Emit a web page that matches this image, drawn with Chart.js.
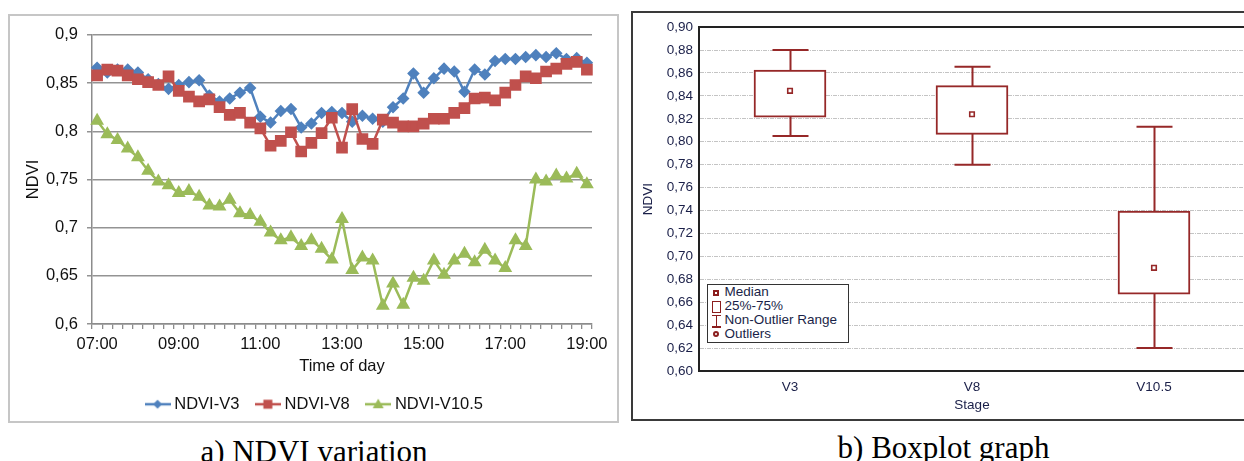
<!DOCTYPE html>
<html>
<head>
<meta charset="utf-8">
<script src="https://cdn.jsdelivr.net/npm/chart.js@4.4.1/dist/chart.umd.min.js"></script>
<style>
  html, body { margin: 0; padding: 0; background: #fff; width: 1244px; height: 461px; overflow: hidden; }
  body { position: relative; font-family: "Liberation Sans", Arial, sans-serif; }
  #leftBox { position: absolute; left: 8px; top: 14px; width: 611px; height: 409px; border: 2px solid #c6c6c6; box-sizing: border-box; }
  #rightBox { position: absolute; left: 631px; top: 11px; width: 700px; height: 410px; border: 2px solid #3a3a3a; border-right: none; box-sizing: border-box; }
  canvas { display: block; }
  .caption { position: absolute; font-family: "Liberation Serif", "Times New Roman", serif; font-size: 31px; line-height: 31px; color: #000; text-align: center; white-space: nowrap; }
  #boxLegend { position: absolute; left: 707px; top: 284px; width: 142px; height: 59px; border: 1.5px solid #333; box-sizing: border-box; background: #fff;
               font-size: 13.5px; line-height: 14px; color: #1a1f48; padding-left: 16.5px; }
  #boxLegend .ico { position: absolute; box-sizing: border-box; }
</style>
</head>
<body>
<div id="leftBox"><canvas id="ndviLine" width="607" height="405"></canvas></div>
<div id="rightBox"><canvas id="ndviBox" width="620" height="406"></canvas></div>

<div id="boxLegend">
  <div>Median</div>
  <div>25%-75%</div>
  <div>Non-Outlier Range</div>
  <div>Outliers</div>
  <span class="ico" style="left:5px;top:4.5px;width:6px;height:6px;border:2px solid #8b1e1e;background:#fff;"></span>
  <span class="ico" style="left:3.5px;top:16px;width:9px;height:12px;border:1.5px solid #8b1e1e;"></span>
  <span class="ico" style="left:7.5px;top:30px;width:1.5px;height:12px;background:#8b1e1e;"></span>
  <span class="ico" style="left:4px;top:29.5px;width:8.5px;height:1.5px;background:#8b1e1e;"></span>
  <span class="ico" style="left:4px;top:41px;width:8.5px;height:1.5px;background:#8b1e1e;"></span>
  <span class="ico" style="left:5px;top:46px;width:6px;height:6px;border:2px solid #8b1e1e;border-radius:50%;background:#fff;"></span>
</div>

<div class="caption" style="left:0; width:628px; top:436px;">a) NDVI variation</div>
<div class="caption" style="left:631px; width:625px; top:431.5px;">b) Boxplot graph</div>

<script>
// --- a) NDVI variation ---
const timeLabels = [
  '07:00','07:15','07:30','07:45','08:00','08:15','08:30','08:45',
  '09:00','09:15','09:30','09:45','10:00','10:15','10:30','10:45',
  '11:00','11:15','11:30','11:45','12:00','12:15','12:30','12:45',
  '13:00','13:15','13:30','13:45','14:00','14:15','14:30','14:45',
  '15:00','15:15','15:30','15:45','16:00','16:15','16:30','16:45',
  '17:00','17:15','17:30','17:45','18:00','18:15','18:30','18:45',
  '19:00'
];
const xTickLabels = ['07:00','09:00','11:00','13:00','15:00','17:00','19:00'];
const yTickLabelsA = ['0,6','0,65','0,7','0,75','0,8','0,85','0,9'];

const ndviV3 = [
  0.866, 0.861, 0.864, 0.864, 0.861, 0.854, 0.849, 0.844, 0.848, 0.851,
  0.853, 0.837, 0.831, 0.834, 0.840, 0.845, 0.815, 0.809, 0.821, 0.823,
  0.804, 0.808, 0.819, 0.820, 0.819, 0.810, 0.816, 0.813, 0.810, 0.825,
  0.834, 0.860, 0.840, 0.855, 0.865, 0.862, 0.841, 0.864, 0.859, 0.873,
  0.875, 0.875, 0.877, 0.879, 0.877, 0.881, 0.875, 0.876, 0.871
];
const ndviV8 = [
  0.858, 0.864, 0.863, 0.858, 0.854, 0.851, 0.848, 0.857, 0.842, 0.836,
  0.831, 0.833, 0.825, 0.817, 0.819, 0.809, 0.803, 0.785, 0.790, 0.799,
  0.779, 0.788, 0.798, 0.814, 0.783, 0.823, 0.792, 0.787, 0.812, 0.809,
  0.805, 0.805, 0.808, 0.813, 0.813, 0.819, 0.824, 0.834, 0.835, 0.832,
  0.840, 0.848, 0.857, 0.855, 0.862, 0.865, 0.870, 0.872, 0.864
];
const ndviV105 = [
  0.811, 0.797, 0.791, 0.782, 0.773, 0.759, 0.748, 0.744, 0.736, 0.738,
  0.732, 0.723, 0.722, 0.729, 0.715, 0.713, 0.706, 0.695, 0.687, 0.690,
  0.681, 0.687, 0.678, 0.667, 0.709, 0.656, 0.669, 0.666, 0.619, 0.642,
  0.620, 0.648, 0.645, 0.666, 0.651, 0.666, 0.673, 0.664, 0.677, 0.666,
  0.658, 0.687, 0.681, 0.750, 0.748, 0.754, 0.751, 0.756, 0.745
];

// --- b) Boxplot graph ---
const stages = ['V3', 'V8', 'V10.5'];
const boxMin = [0.805, 0.780, 0.620];
const boxQ1 = [0.8215, 0.8064, 0.667];
const boxMedian = [0.8444, 0.824, 0.690];
const boxQ3 = [0.8625, 0.849, 0.7395];
const boxMax = [0.880, 0.8654, 0.813];
const yTickLabelsB = ['0,60','0,62','0,64','0,66','0,68','0,70','0,72','0,74',
                      '0,76','0,78','0,80','0,82','0,84','0,86','0,88','0,90'];

const BLUE = '#4f81bd', RED = '#c0504d', GREEN = '#9bbb59';
const BOX = '#962828';
const fontA = { family: '"Liberation Sans", Arial, sans-serif', size: 16.5 };
const fontB = { family: '"Liberation Sans", Arial, sans-serif', size: 13.5 };

// legend icons: line with marker in the middle, like the spreadsheet legend
function legendIcon(color, shape) {
  const c = document.createElement('canvas');
  c.width = 26; c.height = 14;
  const g = c.getContext('2d');
  g.strokeStyle = color; g.fillStyle = color; g.lineWidth = 2.5;
  g.beginPath(); g.moveTo(0, 7); g.lineTo(26, 7); g.stroke();
  g.beginPath();
  if (shape === 'diamond') { g.moveTo(13, 2.5); g.lineTo(17.5, 7); g.lineTo(13, 11.5); g.lineTo(8.5, 7); }
  else if (shape === 'square') { g.rect(8.5, 2.5, 9, 9); }
  else { g.moveTo(13, 1.5); g.lineTo(18.5, 11); g.lineTo(7.5, 11); }
  g.closePath(); g.fill();
  return c;
}
const icons = [legendIcon(BLUE, 'diamond'), legendIcon(RED, 'square'), legendIcon(GREEN, 'triangle')];

new Chart(document.getElementById('ndviLine'), {
  type: 'line',
  data: {
    labels: timeLabels,
    datasets: [
      { label: 'NDVI-V3', data: ndviV3, borderColor: BLUE, backgroundColor: BLUE, borderWidth: 2.5,
        pointStyle: 'rectRot', pointRadius: 4.5, pointBackgroundColor: BLUE, pointBorderColor: BLUE, order: 3 },
      { label: 'NDVI-V8', data: ndviV8, borderColor: RED, backgroundColor: RED, borderWidth: 2.5,
        pointStyle: 'rect', pointRadius: 6.5, pointBackgroundColor: RED, pointBorderColor: RED, order: 2 },
      { label: 'NDVI-V10.5', data: ndviV105, borderColor: GREEN, backgroundColor: GREEN, borderWidth: 2.5,
        pointStyle: 'triangle', pointRadius: 5.5, pointBackgroundColor: GREEN, pointBorderColor: GREEN, order: 1 },
    ],
  },
  options: {
    responsive: false,
    animation: false,
    layout: { padding: { left: 30, top: 14, right: 25, bottom: 0 } },
    scales: {
      x: {
        offset: true,
        grid: { display: true, drawOnChartArea: false, drawTicks: true, tickLength: 5, offset: true, color: '#8c8c8c', lineWidth: 1.3 },
        border: { display: true, color: '#8c8c8c', width: 1.5 },
        ticks: {
          autoSkip: false, maxRotation: 0, padding: 6, color: '#111', font: fontA,
          callback: (v, i) => xTickLabels.includes(timeLabels[i]) ? timeLabels[i] : '',
        },
        title: { display: true, text: 'Time of day', color: '#111', font: fontA, padding: { top: 0, bottom: 0 } },
        afterFit: (s) => { s.height = 52; },
      },
      y: {
        min: 0.6, max: 0.9,
        grid: { color: '#939393', lineWidth: 1.5, tickLength: 5 },
        border: { display: true, color: '#8c8c8c', width: 1.5 },
        ticks: { stepSize: 0.05, padding: 9, color: '#111', font: fontA, callback: (v, i) => yTickLabelsA[i] },
        title: { display: true, text: 'NDVI', color: '#111', font: fontA, padding: { top: -16, bottom: 0 } },
        afterFit: (s) => { s.width = 52; },
      },
    },
    plugins: {
      legend: {
        display: true,
        position: 'bottom',
        maxHeight: 45,
        labels: {
          color: '#111', font: fontA, padding: 20, usePointStyle: true, pointStyleWidth: 17,
          sort: (a, b) => a.datasetIndex - b.datasetIndex,
          generateLabels: (chart) => {
            const items = Chart.defaults.plugins.legend.labels.generateLabels(chart);
            items.forEach((it) => { it.pointStyle = icons[it.datasetIndex]; });
            return items;
          },
        },
      },
      tooltip: { enabled: false },
    },
  },
});

// whiskers and top frame line for the box plot, drawn through the chart scales
const boxExtras = {
  id: 'boxExtras',
  beforeDatasetsDraw(chart) {
    const { ctx, scales: { x, y } } = chart;
    ctx.save();
    ctx.strokeStyle = BOX;
    ctx.lineWidth = 2;
    stages.forEach((s, i) => {
      const cx = Math.round(x.getPixelForValue(i)) + 0.5;
      const yTop = y.getPixelForValue(boxMax[i]);
      const yBot = y.getPixelForValue(boxMin[i]);
      ctx.beginPath();
      ctx.moveTo(cx, yTop); ctx.lineTo(cx, yBot);
      ctx.moveTo(cx - 18, yTop); ctx.lineTo(cx + 18, yTop);
      ctx.moveTo(cx - 18, yBot); ctx.lineTo(cx + 18, yBot);
      ctx.stroke();
    });
    ctx.restore();
  },
  afterDraw(chart) {
    const { ctx, chartArea: a } = chart;
    ctx.save();
    ctx.strokeStyle = '#222';
    ctx.lineWidth = 2;
    ctx.beginPath();
    ctx.moveTo(a.left, a.top); ctx.lineTo(a.right + 10, a.top);
    ctx.stroke();
    ctx.restore();
  },
};

new Chart(document.getElementById('ndviBox'), {
  type: 'bar',
  data: {
    labels: stages,
    datasets: [
      { type: 'line', label: 'Median', data: boxMedian, showLine: false, pointStyle: 'rect', pointRadius: 3.2,
        pointBackgroundColor: '#fff', pointBorderColor: BOX, pointBorderWidth: 1.6, order: 0 },
      { label: '25%-75%', data: stages.map((s, i) => [boxQ1[i], boxQ3[i]]), backgroundColor: '#fff',
        borderColor: BOX, borderWidth: 2, borderSkipped: false, barThickness: 72, order: 1 },
    ],
  },
  options: {
    responsive: false,
    animation: false,
    layout: { padding: { left: 0, top: 14, right: 8, bottom: 2 } },
    scales: {
      x: {
        offset: true,
        grid: { display: false, drawTicks: false },
        border: { display: true, color: '#222', width: 2 },
        ticks: { padding: 8, color: '#1a1f48', font: fontB },
        title: { display: true, text: 'Stage', color: '#1a1f48', font: fontB, padding: { top: 0, bottom: 4 } },
        afterFit: (s) => { s.height = 46; },
      },
      y: {
        min: 0.6, max: 0.9,
        grid: { color: '#c4c4c4', lineWidth: 1, drawTicks: false },
        border: { display: true, color: '#222', width: 2, dash: [4, 1, 1, 1] },
        ticks: { stepSize: 0.02, padding: 6, color: '#1a1f48', font: fontB, callback: (v, i) => yTickLabelsB[i] },
        title: { display: true, text: 'NDVI', color: '#1a1f48', font: fontB, padding: { top: 7, bottom: 0 } },
        afterFit: (s) => { s.width = 66; },
      },
    },
    plugins: {
      legend: { display: false },
      tooltip: { enabled: false },
    },
  },
  plugins: [boxExtras],
});
</script>
</body>
</html>
